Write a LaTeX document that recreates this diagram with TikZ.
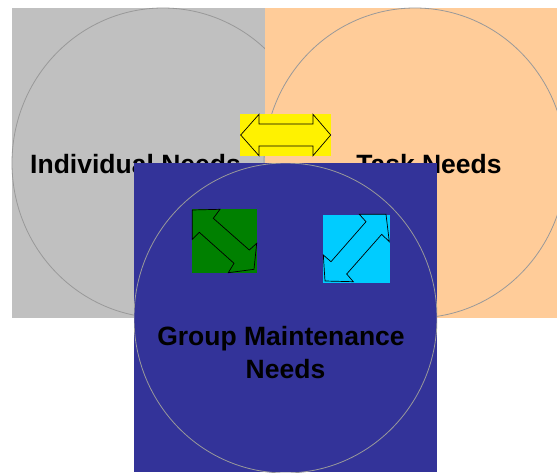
\documentclass[tikz,border=0pt]{standalone}
\usepackage{fontspec}
\setmainfont{Liberation Sans}
\begin{document}
\begin{tikzpicture}[x=1pt,y=-1pt,
  ring/.style={draw=ringgray,line width=0.8pt},
  label/.style={anchor=base,inner sep=0pt,font=\fontsize{26.5}{32.5}\selectfont\bfseries,align=center},
  arrowshape/.style={draw=black,line width=0.7pt,line join=miter}]
\definecolor{panelgray}{HTML}{C0C0C0}
\definecolor{peach}{HTML}{FFCC99}
\definecolor{navy}{HTML}{333399}
\definecolor{ringgray}{HTML}{999999}
\definecolor{leafgreen}{HTML}{008000}
\definecolor{skyblue}{HTML}{00CCFF}
\useasboundingbox (0,0) rectangle (557,472);

% individual needs panel
\fill[panelgray] (12,8) rectangle (265,318);
\draw[ring] (163,163) ellipse [x radius=151, y radius=155];
\node[label] (indiv) at (135.5,173) {Individual Needs};

% task needs panel
\fill[peach] (265,8) rectangle (557,318);
\draw[ring] (415,163) ellipse [x radius=151, y radius=155];
\node[label] (task) at (429,173) {Task Needs};

% group maintenance panel
\fill[navy] (134,163) rectangle (437,472);
\begin{scope}
  \clip (134,163) rectangle (437,472);
  \draw[ring] (285.5,318) ellipse [x radius=151.5, y radius=155];
\end{scope}
\node[label] (group) at (281,345.5) {Group Maintenance};
\node[label] (groupneeds) at (285.5,378) {Needs};

% horizontal double arrow between individual and task
\fill[yellow] (240,114) rectangle (331,156);
\draw[arrowshape,fill=yellow] (240.7,135) -- (259,114.3) -- (259,124) -- (313,124) -- (313,114.3)
  -- (330.7,135) -- (313,155.7) -- (313,146) -- (259,146) -- (259,155.7) -- cycle;

% diagonal double arrow between individual and group
\fill[leafgreen] (192,209) rectangle (257,273);
\draw[arrowshape,fill=leafgreen] (192.3,210) -- (220,209.3) -- (213.3,218.3) -- (249.3,250)
  -- (256.7,243.3) -- (254,269.3) -- (228.3,272.7) -- (234,263.3) -- (199.3,232.3)
  -- (192.3,239.3) -- cycle;

% diagonal double arrow between task and group
\fill[skyblue] (323.3,215) rectangle (390,282.7);
\draw[arrowshape,fill=skyblue] (359.3,214.3) -- (386,214.3) -- (389.3,241.7) -- (381.7,234.3)
  -- (346.7,274) -- (353.3,281.7) -- (325,281) -- (323.3,255) -- (331,261.7)
  -- (366,221.7) -- cycle;
\end{tikzpicture}
\end{document}
